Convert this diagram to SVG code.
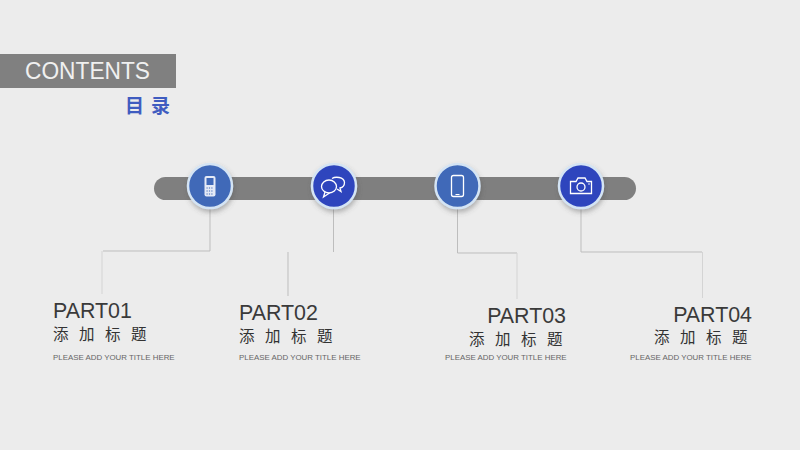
<svg xmlns="http://www.w3.org/2000/svg" width="800" height="450" viewBox="0 0 800 450">
<defs>
<filter id="sh" x="-30%" y="-30%" width="160%" height="160%"><feDropShadow dx="1" dy="3" stdDeviation="2.5" flood-color="#555" flood-opacity="0.4"/></filter>
</defs>
<style>
text{font-family:"Liberation Sans","Noto Sans CJK SC",sans-serif}
.part{font-size:21.4px;fill:#3a3a3a}
.cn{font-family:"Noto Sans CJK SC",sans-serif;font-size:15.5px;fill:#333;letter-spacing:10.5px}
.en{font-size:7.9px;fill:#666}
.c{stroke:#d4e4f4;stroke-width:2.5;filter:url(#sh)}
.ic{fill:none;stroke:#fff;stroke-width:1.3}
.w{fill:#e4eaf6}
.l{fill:none;stroke:#bdbdbd;stroke-width:1}
.l2{fill:none;stroke:#d4d4d4;stroke-width:1}
</style>
<rect width="800" height="450" fill="#ececec"/>
<g id="title">
<rect x="0" y="54" width="176" height="34" fill="#808080"/>
<text x="25" y="79" font-size="23.5" fill="#f0f0f0" textLength="125" lengthAdjust="spacingAndGlyphs">CONTENTS</text>
<text x="125" y="113" font-size="19" font-weight="700" fill="#3f5cc0" style="font-family:'Noto Sans CJK SC',sans-serif;letter-spacing:7px">目录</text>
</g>
<rect id="bar" x="154" y="177" width="482" height="23" rx="11.5" fill="#7f7f7f"/>
<g id="connectors">
<path class="l" d="M210 208V251H103"/>
<path class="l2" d="M102 251V294"/>
<path class="l" d="M333.500 208V252"/>
<path class="l" d="M288 252V296"/>
<path class="l" d="M457.500 208V253H517"/>
<path class="l2" d="M517 253V299"/>
<path class="l" d="M581 208V252H702"/>
<path class="l2" d="M702.500 252V298"/>
</g>
<g id="node1">
<circle class="c" cx="210" cy="186" r="22" fill="#4069b8"/>
<rect x="204.500" y="176" width="11" height="20.500" rx="2" class="w"/>
<rect x="206.500" y="178" width="7" height="7" fill="#4069b8"/>
<path d="M206.500 188h7M206.500 191h7M206.500 194h7" stroke="#4069b8" stroke-width="1" stroke-dasharray="1.200 1.200"/>
<text x="53" y="318" class="part">PART01</text>
<text x="53" y="340" class="cn">添加标题</text>
<text x="53" y="360" class="en">PLEASE ADD YOUR TITLE HERE</text>
</g>
<g id="node2">
<circle class="c" cx="334" cy="186" r="22" fill="#2f45bd"/>
<ellipse class="ic" cx="329" cy="186.500" rx="7.500" ry="6.500"/>
<path class="ic" d="M325 192L323.500 197L329.500 193"/>
<path class="ic" d="M332 178.500C335 176.500 344 176.500 344.500 182.500C344.500 186 342.500 187.500 340 188L341 191.500L337 189"/>
<text x="239" y="320" class="part">PART02</text>
<text x="239" y="342" class="cn">添加标题</text>
<text x="239" y="360" class="en">PLEASE ADD YOUR TITLE HERE</text>
</g>
<g id="node3">
<circle class="c" cx="457.500" cy="186" r="22" fill="#4069b8"/>
<rect x="451.500" y="175.500" width="12" height="21" rx="2" fill="none" stroke="#fff" stroke-width="1.300"/>
<path d="M455.500 194.500h4" stroke="#fff" stroke-width="1"/>
<text x="566" y="323" class="part" text-anchor="end">PART03</text>
<text x="469" y="345" class="cn">添加标题</text>
<text x="445" y="360" class="en">PLEASE ADD YOUR TITLE HERE</text>
</g>
<g id="node4">
<circle class="c" cx="581" cy="186" r="22" fill="#2f45bd"/>
<path class="ic" d="M571 181.500H576L578 178H585L587 181.500H591.500V193.500H570.500V181.500Z"/>
<circle class="ic" cx="581" cy="187" r="4"/>
<circle cx="589" cy="184" r="0.800" fill="#fff"/>
<text x="752" y="322" class="part" text-anchor="end">PART04</text>
<text x="654" y="343" class="cn">添加标题</text>
<text x="630" y="360" class="en">PLEASE ADD YOUR TITLE HERE</text>
</g>
</svg>
